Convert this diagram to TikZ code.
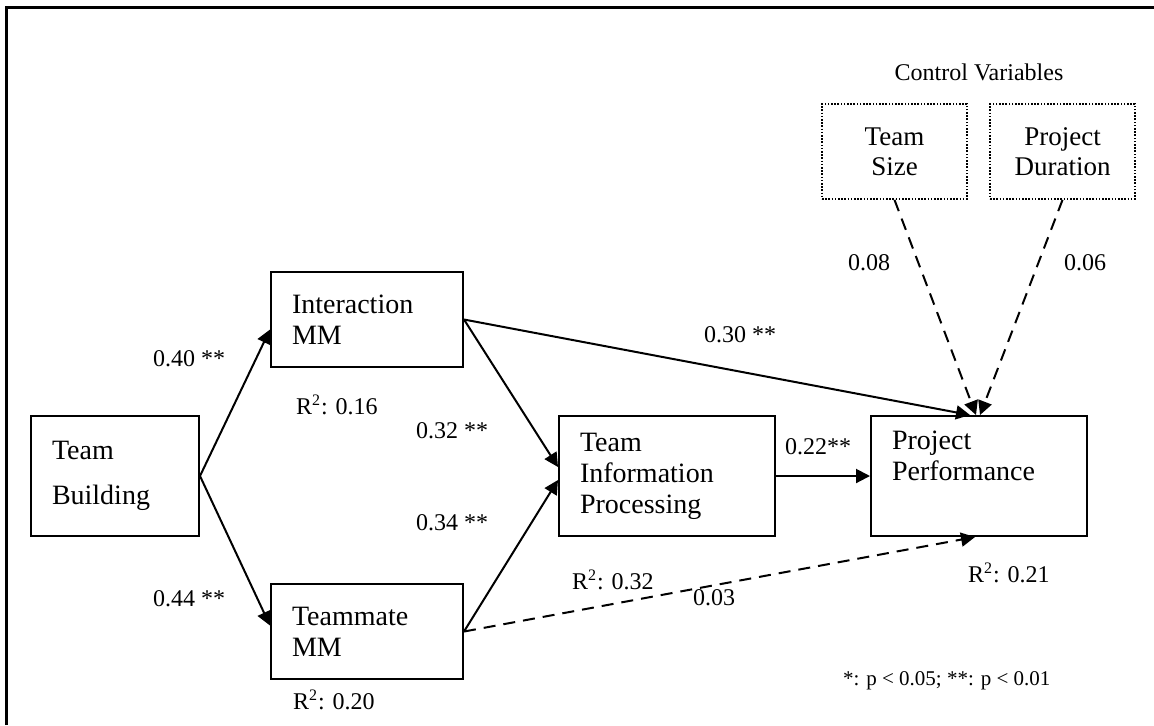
\documentclass[tikz,border=0pt]{standalone}
\usepackage{fontspec}
\setmainfont{Liberation Serif}
\usetikzlibrary{arrows.meta}

\begin{document}
\begin{tikzpicture}[x=0.5pt,y=-0.5pt,line width=1pt,
  box/.style={draw,line width=1pt,align=left,inner xsep=10.5pt,inner ysep=0pt,font=\fontsize{14}{15.5}\selectfont},
  ctrl/.style={draw,line width=0.9pt,dash pattern=on 0.8pt off 0.8pt,align=center,inner sep=0pt,minimum width=72.5pt,minimum height=47.5pt,text width=70pt,font=\fontsize{13.5}{15}\selectfont},
  lbl/.style={anchor=base west,inner sep=0pt,font=\fontsize{12}{14}\selectfont},
  note/.style={anchor=base west,inner sep=0pt,font=\fontsize{10.5}{12}\selectfont},
  link/.style={-{Triangle[length=7pt,width=7pt]},line width=1pt},
  weak/.style={link,dash pattern=on 6pt off 4pt}]
\useasboundingbox (0,0) rectangle (1154,725);
\draw[line width=1.5pt] (6,725) -- (6,7) -- (1154,7);

% model boxes
\draw node[box,text width=63pt,minimum height=60pt] (tb) at (115,476) {Team\\[7pt]Building};
\draw node[box,text width=75pt,minimum height=47.5pt] (imm) at (367,319.5) {Interaction\\MM};
\draw node[box,text width=75pt,minimum height=47.5pt] (tmm) at (367,631.5) {Teammate\\MM};
\draw node[box,text width=87pt,minimum height=60pt] (tip) at (667,476) {Team\\Information\\Processing};
\draw node[box,text width=87pt,minimum height=60pt] (pp) at (979,476) {Project\\Performance\\\strut};

% control variables
\draw node[ctrl] (ts) at (894.5,151.5) {Team\\Size};
\draw node[ctrl] (pd) at (1062.5,151.5) {Project\\Duration};
\draw node[inner sep=0pt,font=\fontsize{12}{14}\selectfont] (cv) at (979,72) {Control Variables};

% paths
\draw[link] (tb.east) -- ([yshift=-5pt]imm.west);
\draw[link] (tb.east) -- ([yshift=3pt]tmm.west);
\draw[link] (imm.east) -- ([yshift=4.5pt]tip.west);
\draw[link] (tmm.east) -- ([yshift=-2pt]tip.west);
\draw[link] (imm.east) -- ([xshift=-4.5pt]pp.north);
\draw[link] (tip.east) -- (pp.west);
\draw[weak] (tmm.east) -- ([xshift=-2pt]pp.south);
\draw[weak] (ts.south) -- ([xshift=-1.5pt]pp.north);
\draw[weak] (pd.south) -- ([xshift=0.5pt]pp.north);

% coefficients
\draw node[lbl] (c1) at (152,366) {0.40 **};
\draw node[lbl] (c2) at (152,606) {0.44 **};
\draw node[lbl] (c3) at (415,438) {0.32 **};
\draw node[lbl] (c4) at (415,530) {0.34 **};
\draw node[lbl] (c5) at (703,342) {0.30 **};
\draw node[lbl] (c6) at (784,454) {0.22**};
\draw node[lbl] (c7) at (692,605) {0.03};
\draw node[lbl] (c8) at (847,270) {0.08};
\draw node[lbl] (c9) at (1063,270) {0.06};

% explained variance
\draw node[lbl] (r1) at (295,414) {R\textsuperscript{2}: 0.16};
\draw node[lbl] (r2) at (292,709) {R\textsuperscript{2}: 0.20};
\draw node[lbl] (r3) at (571,589) {R\textsuperscript{2}: 0.32};
\draw node[lbl] (r4) at (967,582) {R\textsuperscript{2}: 0.21};

\draw node[note] (sig) at (842,685) {*: p < 0.05; **: p < 0.01};
\end{tikzpicture}
\end{document}
